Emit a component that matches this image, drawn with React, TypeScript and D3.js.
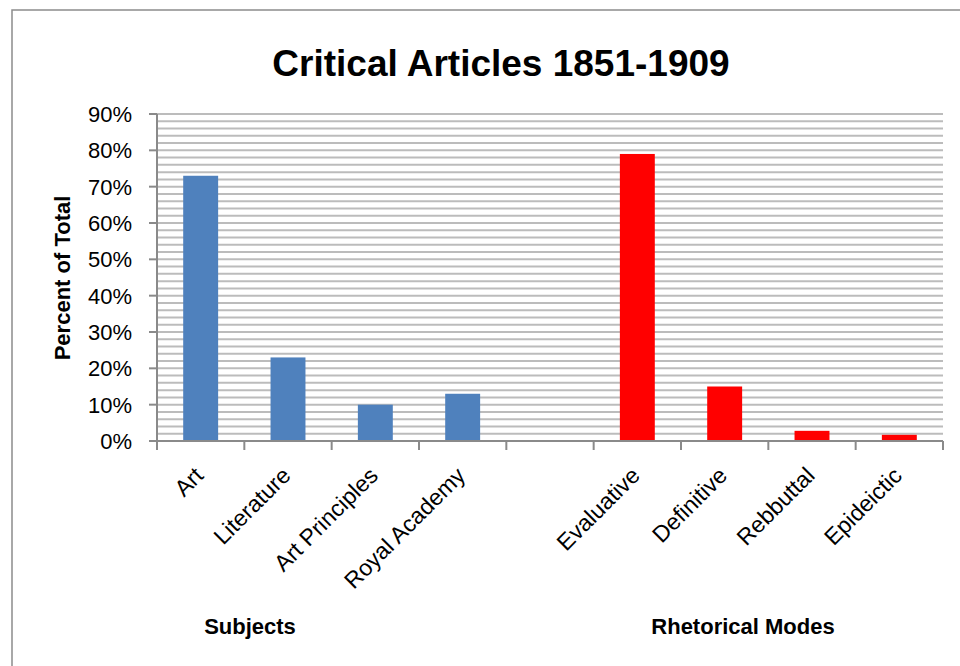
import React, { useEffect, useRef } from "react";
import * as d3 from "d3";

// data
const categories = [
  "Art",
  "Literature",
  "Art Principles",
  "Royal Academy",
  "",
  "Evaluative",
  "Definitive",
  "Rebbuttal",
  "Epideictic",
];
const subjectValues = [73, 23, 10, 13, null, null, null, null, null];
const modeValues = [null, null, null, null, null, 79, 15, 2.8, 1.7];
const yTicks = [0, 10, 20, 30, 40, 50, 60, 70, 80, 90];
const groupLabels = ["Subjects", "Rhetorical Modes"];

const W = 960,
  H = 666;
const FONT = "'Liberation Sans', Arial, sans-serif";

export default function App() {
  const ref = useRef<SVGSVGElement>(null);

  useEffect(() => {
    const svg = d3.select(ref.current);
    svg.selectAll("*").remove();

    const left = 157,
      right = 943,
      top = 114,
      bottom = 441;

    const x = d3
      .scaleBand<string>()
      .domain(categories.map((c, i) => i + ":" + c))
      .range([left, right])
      .paddingInner(0)
      .paddingOuter(0);
    const y = d3.scaleLinear().domain([0, 90]).range([bottom, top]);

    // chart frame
    svg
      .append("rect")
      .attr("x", 12)
      .attr("y", 10)
      .attr("width", W)
      .attr("height", H + 20)
      .attr("fill", "white")
      .attr("stroke", "#8c8c8c")
      .attr("stroke-width", 1.5);

    // title
    svg
      .append("text")
      .attr("x", 501)
      .attr("y", 76)
      .attr("text-anchor", "middle")
      .style("font-family", FONT)
      .style("font-weight", "bold")
      .style("font-size", "37px")
      .text("Critical Articles 1851-1909");

    // gridlines every 2%
    const minor = d3.range(2, 91, 2);
    svg
      .append("g")
      .selectAll("line")
      .data(minor)
      .enter()
      .append("line")
      .attr("x1", left)
      .attr("x2", right)
      .attr("y1", (d) => y(d))
      .attr("y2", (d) => y(d))
      .attr("stroke", "#bcbcbc")
      .attr("stroke-width", 2);

    // bars
    const band = x.bandwidth();
    const barW = band * 0.4;
    const keys = x.domain();
    const drawBars = (vals: (number | null)[], color: string) => {
      svg
        .append("g")
        .selectAll("rect")
        .data(vals.map((v, i) => ({ v, k: keys[i] })).filter((d) => d.v != null))
        .enter()
        .append("rect")
        .attr("x", (d) => (x(d.k) as number) + (band - barW) / 2)
        .attr("width", barW)
        .attr("y", (d) => y(d.v as number))
        .attr("height", (d) => bottom - y(d.v as number))
        .attr("fill", color);
    };
    drawBars(subjectValues, "#4f81bd");
    drawBars(modeValues, "#ff0000");

    // y axis
    const yAxis = svg.append("g").attr("transform", `translate(${left},0)`);
    yAxis
      .append("line")
      .attr("x1", 0)
      .attr("x2", 0)
      .attr("y1", top)
      .attr("y2", bottom)
      .attr("stroke", "#8a8a8a")
      .attr("stroke-width", 2);
    yAxis
      .selectAll("line.tick")
      .data(yTicks)
      .enter()
      .append("line")
      .attr("class", "tick")
      .attr("x1", -8)
      .attr("x2", 0)
      .attr("y1", (d) => y(d))
      .attr("y2", (d) => y(d))
      .attr("stroke", "#8a8a8a")
      .attr("stroke-width", 2);
    yAxis
      .selectAll("text")
      .data(yTicks)
      .enter()
      .append("text")
      .attr("x", -25)
      .attr("y", (d) => y(d))
      .attr("dy", "0.36em")
      .attr("text-anchor", "end")
      .style("font-family", FONT)
      .style("font-size", "22px")
      .text((d) => d + "%");

    svg
      .append("text")
      .attr("transform", "translate(70,278) rotate(-90)")
      .attr("text-anchor", "middle")
      .style("font-family", FONT)
      .style("font-weight", "bold")
      .style("font-size", "22px")
      .text("Percent of Total");

    // x axis
    const xAxis = svg.append("g").attr("transform", `translate(0,${bottom})`);
    xAxis
      .append("line")
      .attr("x1", left)
      .attr("x2", right)
      .attr("stroke", "#8a8a8a")
      .attr("stroke-width", 2);
    const bounds = keys.map((k) => x(k) as number).concat([right]);
    xAxis
      .selectAll("line.tick")
      .data(bounds)
      .enter()
      .append("line")
      .attr("class", "tick")
      .attr("x1", (d) => d)
      .attr("x2", (d) => d)
      .attr("y1", 0)
      .attr("y2", 9)
      .attr("stroke", "#8a8a8a")
      .attr("stroke-width", 2);
    xAxis
      .selectAll("text")
      .data(keys)
      .enter()
      .append("text")
      .attr(
        "transform",
        (k) => `translate(${(x(k) as number) + band / 2 + 4},${36}) rotate(-45)`
      )
      .attr("text-anchor", "end")
      .style("font-family", FONT)
      .style("font-size", "23px")
      .text((k) => k.split(":")[1]);

    // group labels
    const groupX = [250, 743];
    svg
      .append("g")
      .selectAll("text")
      .data(groupLabels)
      .enter()
      .append("text")
      .attr("x", (d, i) => groupX[i])
      .attr("y", 634)
      .attr("text-anchor", "middle")
      .style("font-family", FONT)
      .style("font-weight", "bold")
      .style("font-size", "22px")
      .text((d) => d);
  }, []);

  return (
    <svg
      ref={ref}
      width={W}
      height={H}
      style={{ position: "absolute", left: 0, top: 0, background: "white" }}
    />
  );
}
